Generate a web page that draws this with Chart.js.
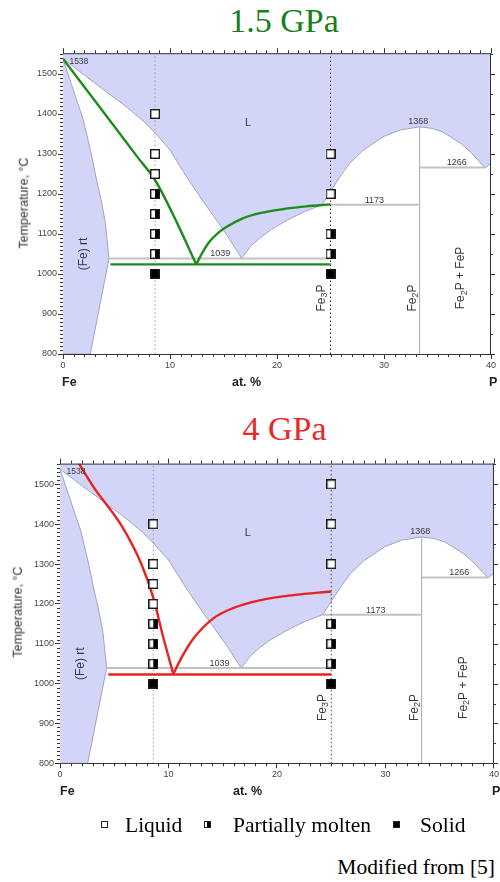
<!DOCTYPE html>
<html>
<head>
<meta charset="utf-8">
<script src="https://cdn.jsdelivr.net/npm/chart.js@4.4.1/dist/chart.umd.min.js"></script>
<style>
    body { margin: 0; background: #fff; }
    #page { position: relative; width: 500px; height: 882px; overflow: hidden; font-family: "Liberation Sans", Arial, sans-serif; }
    .abs { position: absolute; white-space: nowrap; }
    .serif { font-family: "Liberation Serif", "Times New Roman", serif; }
    .title { font-size: 34px; line-height: 34px; width: 200px; text-align: center; }
    .ytitle { font-size: 12.5px; line-height: 1; color: #333; transform: translate(-50%, -50%) rotate(-90deg); }
    .comp { font-size: 12.5px; line-height: 1; font-weight: bold; color: #222; }
    .leg { font-size: 21.5px; line-height: 1; color: #000; }
    .box { position: absolute; width: 7px; height: 7px; box-sizing: border-box; border: 1px solid #222; background: #fff; }
</style>
</head>
<body>
<div id="page">
    <div class="abs serif title" style="left:184px; top:3.5px; color:#1a7f1a;">1.5 GPa</div>
    <div class="abs" style="left:0; top:0;"><canvas id="chart15" width="500" height="400"></canvas></div>
    <div class="abs ytitle" style="left:24px; top:203px;">Temperature, °C</div>
    <div class="abs comp" style="left:62px; top:375.5px;">Fe</div>
    <div class="abs comp" style="left:232px; top:375.5px;">at. %</div>
    <div class="abs comp" style="left:489px; top:375.5px;">P</div>

    <div class="abs serif title" style="left:184.5px; top:411.5px; color:#e62a2a;">4 GPa</div>
    <div class="abs" style="left:0; top:410px;"><canvas id="chart4" width="500" height="400"></canvas></div>
    <div class="abs ytitle" style="left:18px; top:612px;">Temperature, °C</div>
    <div class="abs comp" style="left:60px; top:784.5px;">Fe</div>
    <div class="abs comp" style="left:233px; top:784.5px;">at. %</div>
    <div class="abs comp" style="left:492px; top:784.5px;">P</div>

    <span class="box" style="left:101px; top:821px;"></span>
    <div class="abs serif leg" style="left:125px; top:815.3px;">Liquid</div>
    <span class="box" style="left:204px; top:821px; background:linear-gradient(90deg,#fff 50%,#000 50%);"></span>
    <div class="abs serif leg" style="left:233px; top:815.3px;">Partially molten</div>
    <span class="box" style="left:393px; top:821px; background:#000;"></span>
    <div class="abs serif leg" style="left:420px; top:815.3px;">Solid</div>
    <div class="abs serif leg" style="right:5px; top:857px;">Modified from [5]</div>
</div>
<script>
// Fe-P phase diagram (at.% P vs °C)
const liqX = [0, 1, 2, 3.2, 4.4, 5.5, 6.5, 7.6, 8.6, 10, 11.5, 13, 14.2, 15.5, 16.7,
              17.5, 18.4, 19.5, 21, 22.5, 24.2,
              25, 26, 26.8, 28, 29.9, 31.5, 33.33, 34.5, 35.5, 36.2, 37.2, 38.2, 39.45, 40];
const liqT = [1538, 1518, 1497, 1473, 1448, 1427, 1405, 1380, 1353, 1310, 1245, 1185, 1140, 1090, 1039,
              1068, 1090, 1112, 1135, 1155, 1173,
              1206, 1248, 1277, 1308, 1343, 1360, 1368, 1364, 1355, 1343, 1326, 1302, 1265, 1277];
const feSolidusX = [0, 0.9, 1.9, 2.6, 3.1, 3.6, 3.95, 4.3];
const feSolidusT = [1538, 1465, 1385, 1305, 1240, 1180, 1130, 1039];
const feSolvusX = [0, 2.55, 4.3];
const feSolvusT = [800, 800, 1039];
const eutecticX = [4.3, 25];
const eutecticT = [1039, 1039];
const peritecticX = [24.2, 33.33];
const peritecticT = [1173, 1173];
const fe2pEutX = [33.33, 39.45];
const fe2pEutT = [1266, 1266];
const fe2pX = [33.33, 33.33];
const fe2pT = [800, 1368];

// sample compositions
const sampleA = 8.6;
const sampleB = 25;

// 1.5 GPa
const g15LiqX = [0, 2.5, 5, 7, 8.6, 10.6, 12.45];
const g15LiqT = [1538, 1450, 1362, 1291, 1235, 1131, 1024];
const g15RiseX = [12.45, 13.0, 13.7, 14.5, 15.3, 16.8, 18.4, 20.5, 22.7, 25];
const g15RiseT = [1024, 1052, 1081, 1103, 1118, 1139, 1152, 1162, 1169, 1174];
const g15SolX = [4.43, 25];
const g15SolT = [1024, 1024];
const p15LiquidA = [1400, 1300, 1250];
const p15PartialA = [1200, 1150, 1100, 1050];
const p15SolidA = [1000];
const p15LiquidB = [1300, 1200];
const p15PartialB = [1100, 1050];
const p15SolidB = [1000];

// 4 GPa
const r4LiqX = [1.75, 3.1, 5.7, 7.5, 8.6, 9.5, 10.44];
const r4LiqT = [1552, 1493, 1395, 1300, 1215, 1118, 1024];
const r4RiseX = [10.44, 11.2, 12.3, 14.1, 16, 18.4, 21.5, 25];
const r4RiseT = [1024, 1065, 1113, 1163, 1190, 1209, 1222, 1231];
const r4SolX = [4.45, 25];
const r4SolT = [1023, 1023];
const p4LiquidA = [1400, 1300, 1250, 1200];
const p4PartialA = [1150, 1100, 1050];
const p4SolidA = [1000];
const p4LiquidB = [1500, 1400, 1300];
const p4PartialB = [1150, 1100, 1050];
const p4SolidB = [1000];

const xTicks = [0, 10, 20, 30, 40];
const yTicks = [800, 900, 1000, 1100, 1200, 1300, 1400, 1500];

const SANS = '"Liberation Sans", Arial, sans-serif';
const LAV = '#d2d5f7';
const EDGE = '#a3a3bd';
const INV = '#c2c2c2';

// in-plot labels: text, position in data units, style
const annotations = [
    { text: '1538', x: 0.6, t: 1532, size: 8.5, align: 'left' },
    { text: 'L', x: 17.3, t: 1377, size: 11 },
    { text: '1368', x: 33.2, t: 1381, size: 9 },
    { text: '1266', x: 36.8, t: 1278, size: 9 },
    { text: '1173', x: 29.1, t: 1183, size: 9 },
    { text: '1039', x: 14.7, t: 1050, size: 9 },
    { text: '(Fe) rt', x: 1.9, t: 1050, size: 12, rot: true, color: '#33335e' },
    { text: 'Fe_3P', x: 24.2, t: 940, size: 12, rot: true },
    { text: 'Fe_2P', x: 32.7, t: 940, size: 12, rot: true },
    { text: 'Fe_2P + FeP', x: 37.2, t: 990, size: 12, rot: true }
];

function pts(xs, ts) {
    return xs.map((x, i) => ({ x, y: ts[i] }));
}

function column(x, ts) {
    return ts.map(t => ({ x, y: t }));
}

function markerCanvas(kind) {
    const c = document.createElement('canvas');
    c.width = 10;
    c.height = 10;
    const g = c.getContext('2d');
    g.fillStyle = kind === 'solid' ? '#000' : '#fff';
    g.fillRect(0, 0, 10, 10);
    if (kind === 'partial') {
        g.fillStyle = '#000';
        g.fillRect(5, 0, 5, 10);
    }
    g.strokeStyle = '#1a1a1a';
    g.lineWidth = 1.4;
    g.strokeRect(0.7, 0.7, 8.6, 8.6);
    return c;
}

const markers = {
    liquid: markerCanvas('liquid'),
    partial: markerCanvas('partial'),
    solid: markerCanvas('solid')
};

function drawRich(ctx, text, size, color) {
    const parts = text.split(/_(\d)/);
    const big = `${size}px ${SANS}`;
    const small = `${Math.round(size * 0.72)}px ${SANS}`;
    let total = 0;
    parts.forEach((p, i) => {
        ctx.font = i % 2 ? small : big;
        total += ctx.measureText(p).width;
    });
    let cx = -total / 2;
    ctx.fillStyle = color;
    ctx.textBaseline = 'middle';
    ctx.textAlign = 'left';
    parts.forEach((p, i) => {
        ctx.font = i % 2 ? small : big;
        ctx.fillText(p, cx, i % 2 ? size * 0.25 : 0);
        cx += ctx.measureText(p).width;
    });
}

const labelPlugin = {
    id: 'labelPlugin',
    afterDatasetsDraw(chart) {
        const { ctx, scales: { x, y } } = chart;
        ctx.save();
        annotations.forEach(a => {
            const px = x.getPixelForValue(a.x);
            const py = y.getPixelForValue(a.t);
            const color = a.color || '#3a3a3a';
            ctx.save();
            ctx.translate(px, py);
            if (a.rot) ctx.rotate(-Math.PI / 2);
            if (a.align === 'left') {
                ctx.font = `${a.size}px ${SANS}`;
                ctx.fillStyle = color;
                ctx.textBaseline = 'middle';
                ctx.textAlign = 'left';
                ctx.fillText(a.text, 0, 0);
            } else {
                drawRich(ctx, a.text, a.size, color);
            }
            ctx.restore();
        });
        ctx.restore();
    }
};

const frameTicks = {
    id: 'frameTicks',
    afterDraw(chart) {
        const { ctx, chartArea: a, scales: { x, y } } = chart;
        ctx.save();
        ctx.strokeStyle = '#333';
        ctx.lineWidth = 1;
        ctx.beginPath();
        ctx.moveTo(a.left, a.top + 0.5);
        ctx.lineTo(a.right, a.top + 0.5);
        ctx.moveTo(a.right - 0.5, a.top);
        ctx.lineTo(a.right - 0.5, a.bottom);
        for (let v = x.min; v <= x.max; v++) {
            const px = Math.round(x.getPixelForValue(v)) + 0.5;
            const major = v % 10 === 0;
            if (!major) {
                ctx.moveTo(px, a.bottom);
                ctx.lineTo(px, a.bottom + 3);
            }
            ctx.moveTo(px, a.top);
            ctx.lineTo(px, a.top - (major ? 5 : 3));
        }
        for (let t = y.min; t <= y.max; t += 10) {
            const py = Math.round(y.getPixelForValue(t)) + 0.5;
            if (t % 100) {
                ctx.moveTo(a.left, py);
                ctx.lineTo(a.left - 3, py);
            }
            if (t % 50 === 0) {
                ctx.moveTo(a.right, py);
                ctx.lineTo(a.right + (t % 100 ? 2 : 4), py);
            }
        }
        ctx.stroke();
        ctx.restore();
    }
};

function line(data, color, width, order, extra) {
    return Object.assign({
        data,
        borderColor: color,
        borderWidth: width,
        pointRadius: 0,
        fill: false,
        tension: 0,
        order
    }, extra || {});
}

function markerSet(style, pointsList) {
    return {
        data: pointsList,
        showLine: false,
        pointStyle: style,
        pointRadius: 5,
        order: 0
    };
}

function buildChart(id, panel) {
    const datasets = [
        line(pts(liqX, liqT), EDGE, 1, 20, { fill: 'end', backgroundColor: LAV }),
        line(pts(feSolidusX, feSolidusT), EDGE, 1, 19, { fill: 2, backgroundColor: LAV }),
        line(pts(feSolvusX, feSolvusT), EDGE, 1, 18),
        line(pts(eutecticX, eutecticT), INV, 2, 10),
        line(pts(peritecticX, peritecticT), INV, 2, 10),
        line(pts(fe2pEutX, fe2pEutT), INV, 2, 10),
        line(pts(fe2pX, fe2pT), '#aaaaaa', 1, 10),
        line(column(sampleA, [800, 1552]), '#9a9a9a', 1, 8, { borderDash: [1.5, 2.5] }),
        line(column(sampleB, [800, 1552]), panel.darkDot, 1, 8, { borderDash: [1.5, 2.5] }),
        line(pts(panel.liqX, panel.liqT), panel.color, 2.4, 2, { cubicInterpolationMode: 'monotone' }),
        line(pts(panel.riseX, panel.riseT), panel.color, 2.4, 2, { cubicInterpolationMode: 'monotone' }),
        line(pts(panel.solX, panel.solT), panel.color, 2.4, 2),
        markerSet(markers.liquid, column(sampleA, panel.liquidA).concat(column(sampleB, panel.liquidB))),
        markerSet(markers.partial, column(sampleA, panel.partialA).concat(column(sampleB, panel.partialB))),
        markerSet(markers.solid, column(sampleA, panel.solidA).concat(column(sampleB, panel.solidB)))
    ];

    const tickFont = { size: 9, family: SANS };

    return new Chart(document.getElementById(id), {
        type: 'line',
        data: { datasets },
        options: {
            responsive: false,
            animation: false,
            events: [],
            layout: {
                padding: { left: 0, right: panel.padRight, top: panel.padTop, bottom: panel.padBottom }
            },
            plugins: {
                legend: { display: false },
                tooltip: { enabled: false },
                title: { display: false }
            },
            scales: {
                x: {
                    type: 'linear',
                    min: 0,
                    max: 40,
                    afterBuildTicks: s => { s.ticks = xTicks.map(v => ({ value: v })); },
                    ticks: { font: tickFont, color: '#444', padding: 1, maxRotation: 0, callback: v => String(v) },
                    grid: { display: true, drawOnChartArea: false, drawTicks: true, tickLength: 5, color: '#333' },
                    border: { display: true, color: '#333', width: 1 },
                    afterFit: s => { s.height = 20; }
                },
                y: {
                    type: 'linear',
                    min: 800,
                    max: 1552,
                    afterBuildTicks: s => { s.ticks = yTicks.map(v => ({ value: v })); },
                    ticks: { font: tickFont, color: '#444', padding: 1, callback: v => String(v) },
                    grid: { display: true, drawOnChartArea: false, drawTicks: true, tickLength: 5, color: '#333' },
                    border: { display: true, color: '#333', width: 1 },
                    afterFit: s => { s.width = panel.yWidth; }
                }
            }
        },
        plugins: [labelPlugin, frameTicks]
    });
}

buildChart('chart15', {
    yWidth: 63, padTop: 53.2, padRight: 9, padBottom: 26,
    color: '#1f8c1f', darkDot: '#333',
    liqX: g15LiqX, liqT: g15LiqT, riseX: g15RiseX, riseT: g15RiseT, solX: g15SolX, solT: g15SolT,
    liquidA: p15LiquidA, partialA: p15PartialA, solidA: p15SolidA,
    liquidB: p15LiquidB, partialB: p15PartialB, solidB: p15SolidB
});

buildChart('chart4', {
    yWidth: 60, padTop: 53.6, padRight: 6, padBottom: 26.7,
    color: '#e8231f', darkDot: '#444',
    liqX: r4LiqX, liqT: r4LiqT, riseX: r4RiseX, riseT: r4RiseT, solX: r4SolX, solT: r4SolT,
    liquidA: p4LiquidA, partialA: p4PartialA, solidA: p4SolidA,
    liquidB: p4LiquidB, partialB: p4PartialB, solidB: p4SolidB
});
</script>
</body>
</html>
